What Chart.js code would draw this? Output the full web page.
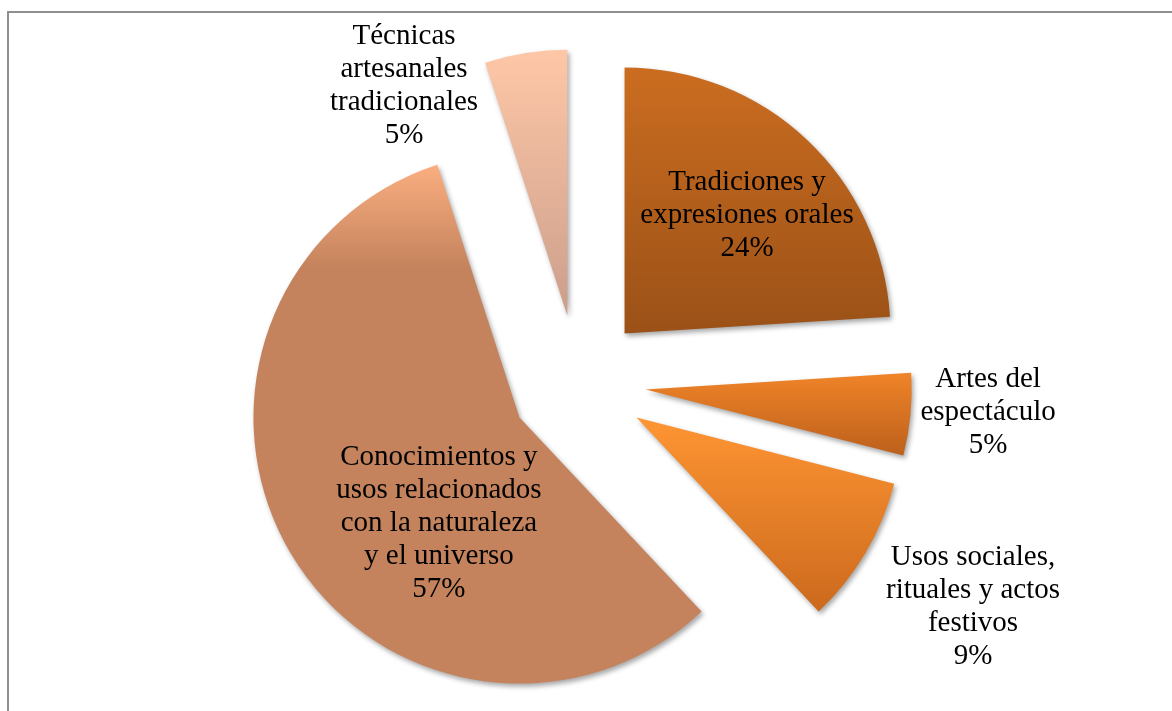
<!DOCTYPE html>
<html>
<head>
<meta charset="utf-8">
<script src="https://cdn.jsdelivr.net/npm/chart.js@4"></script>
<style>
  html, body { margin: 0; padding: 0; background: #fff; }
  #wrap { position: relative; width: 1172px; height: 711px; overflow: hidden; }
  #frame { position: absolute; left: 7px; top: 11px; width: 1300px; height: 900px;
           border-left: 2px solid #8f8f8f; border-top: 2px solid #8f8f8f; }
  #pie { position: absolute; left: 0; top: 0; }
</style>
</head>
<body>
<div id="wrap">
  <div id="frame"></div>
  <canvas id="pie" width="1172" height="711"></canvas>
</div>
<script>
const categories = [
  ["Tradiciones y", "expresiones orales"],
  ["Artes del", "espectáculo"],
  ["Usos sociales,", "rituales y actos", "festivos"],
  ["Conocimientos y", "usos relacionados", "con la naturaleza", "y el universo"],
  ["Técnicas", "artesanales", "tradicionales"],
];
const shares = [24, 5, 9, 57, 5];

// vertical shading of each wedge, top -> bottom
const gradientStops = [
  [[0, "#CB6D20"], [1, "#9B5117"]],
  [[0, "#F08428"], [1, "#BC601C"]],
  [[0, "#FF9533"], [1, "#CB691D"]],
  [[0, "#FBAE80"], [0.2, "#C4835D"], [1, "#C4835D"]],
  [[0, "#FEC7A7"], [1, "#CB9E8B"]],
];

const RADIUS = 266;
const EXPLODE = 68;
const FONT = "29px 'Liberation Serif', 'Times New Roman', serif";
const LINE_H = 33;

// label anchor: rotation from the wedge bisector (deg) and distance in radii
const labelPlacement = [
  { turn: 2.8, dist: 0.64 },
  { turn: -1.6, dist: 1.29 },
  { turn: -1.2, dist: 1.452 },
  { turn: -22, dist: 0.4985 },
  { turn: -26.4, dist: 1.06 },
];

const explodePlugin = {
  id: "explode",
  afterDatasetUpdate(chart, args) {
    const ctx = chart.ctx;
    args.meta.data.forEach((arc, i) => {
      const mid = (arc.startAngle + arc.endAngle) / 2;
      arc.x += Math.cos(mid) * EXPLODE;
      arc.y += Math.sin(mid) * EXPLODE;
      const r = arc.outerRadius;
      const ys = [arc.y, arc.y + r * Math.sin(arc.startAngle), arc.y + r * Math.sin(arc.endAngle)];
      for (const a of [-Math.PI / 2, Math.PI / 2, 3 * Math.PI / 2]) {
        if (a > arc.startAngle && a < arc.endAngle) ys.push(arc.y + r * Math.sin(a));
      }
      const g = ctx.createLinearGradient(0, Math.min(...ys), 0, Math.max(...ys));
      gradientStops[i].forEach(([o, c]) => g.addColorStop(o, c));
      arc.options = Object.assign({}, arc.options, { backgroundColor: g, $shared: false });
    });
  },
  beforeDatasetDraw(chart) {
    const c = chart.ctx;
    c.save();
    c.shadowColor = "rgba(0,0,0,0.35)";
    c.shadowBlur = 5;
    c.shadowOffsetX = 2;
    c.shadowOffsetY = 3;
  },
  afterDatasetDraw(chart) {
    chart.ctx.restore();
  },
  afterDatasetsDraw(chart) {
    const c = chart.ctx;
    c.save();
    c.font = FONT;
    c.fillStyle = "#000";
    c.textAlign = "center";
    c.textBaseline = "middle";
    chart.getDatasetMeta(0).data.forEach((arc, i) => {
      const p = labelPlacement[i];
      const a = (arc.startAngle + arc.endAngle) / 2 + p.turn * Math.PI / 180;
      const x = arc.x + Math.cos(a) * p.dist * arc.outerRadius;
      const y = arc.y + Math.sin(a) * p.dist * arc.outerRadius;
      const lines = [...categories[i], `${shares[i]}%`];
      const y0 = y - (lines.length - 1) * LINE_H / 2;
      lines.forEach((t, k) => c.fillText(t, x, y0 + k * LINE_H));
    });
    c.restore();
  },
};

new Chart(document.getElementById("pie"), {
  type: "pie",
  data: {
    labels: categories.map((l) => l.join(" ")),
    datasets: [{ data: shares, borderWidth: 0, backgroundColor: "#C4835D" }],
  },
  options: {
    responsive: false,
    animation: false,
    events: [],
    radius: RADIUS,
    layout: { padding: { left: 0, right: 16, top: 55, bottom: 0 } },
    plugins: { legend: { display: false }, tooltip: { enabled: false } },
  },
  plugins: [explodePlugin],
});
</script>
</body>
</html>
